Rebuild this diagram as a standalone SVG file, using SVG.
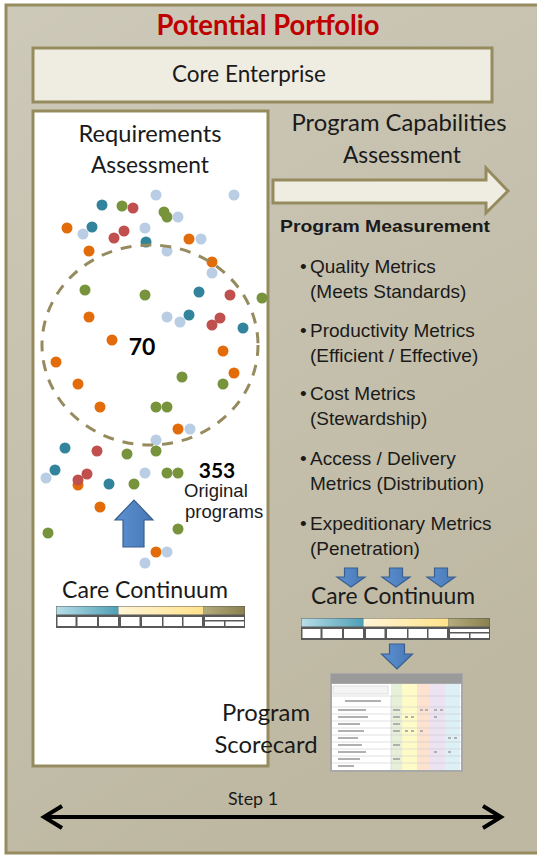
<svg xmlns="http://www.w3.org/2000/svg" width="537" height="856" viewBox="0 0 537 856">
<style>
.cal{font-family:Lato,"Open Sans","Noto Sans",sans-serif;fill:#1a1a1a}
.ari{font-family:"Liberation Sans",Arial,sans-serif;fill:#1a1a1a}
.frame{fill:#efece2;stroke:#958b5e;stroke-width:3}
.o{fill:#e36c0a}.t{fill:#31849b}.g{fill:#77933c}.r{fill:#c0504d}.b{fill:#b9cde5}
.barrow{fill:url(#blueArr);stroke:#3a5f8d;stroke-width:1.2}
.cell{fill:#ffffff}
</style>
<defs>
<linearGradient id="bg" x1="0" y1="0" x2="0.4" y2="1">
<stop offset="0" stop-color="#cdc9b9"/><stop offset="1" stop-color="#beb8a2"/>
</linearGradient>
<linearGradient id="blueArr" x1="0" y1="0" x2="1" y2="0">
<stop offset="0" stop-color="#5d91d2"/><stop offset="1" stop-color="#4778b6"/>
</linearGradient>
<linearGradient id="hBlue" x1="0" y1="0" x2="1" y2="0"><stop offset="0" stop-color="#b7dee8"/><stop offset="1" stop-color="#4f9fb5"/></linearGradient>
<linearGradient id="hYel" x1="0" y1="0" x2="1" y2="0"><stop offset="0" stop-color="#fff5d6"/><stop offset="1" stop-color="#ffe28a"/></linearGradient>
<linearGradient id="hOl" x1="0" y1="0" x2="1" y2="0"><stop offset="0" stop-color="#b4ab7c"/><stop offset="1" stop-color="#8a8050"/></linearGradient>
<marker id="chev" markerUnits="userSpaceOnUse" markerWidth="26" markerHeight="28" viewBox="0 0 26 28" refX="21" refY="14" orient="auto-start-reverse">
<path d="M3,3 L21,14 L3,25" fill="none" stroke="#000" stroke-width="4" stroke-linejoin="miter"/>
</marker>
<g id="ccTable">
<rect x="0" y="0" width="189" height="22" fill="#595959"/>
<rect x="0.5" y="0.5" width="62" height="8" fill="url(#hBlue)"/>
<rect x="62.5" y="0.5" width="85" height="8" fill="url(#hYel)"/>
<rect x="148" y="0.5" width="40.5" height="8" fill="url(#hOl)"/>
<rect class="cell" x="1.5" y="11" width="18" height="9"/>
<rect class="cell" x="21.5" y="11" width="19.5" height="9"/>
<rect class="cell" x="43" y="11" width="19" height="9"/>
<rect class="cell" x="65" y="11" width="18.5" height="9"/>
<rect class="cell" x="86" y="11" width="20" height="9"/>
<rect class="cell" x="107.5" y="11" width="18.5" height="9"/>
<rect class="cell" x="127.5" y="11" width="18.5" height="9"/>
<rect class="cell" x="149" y="11" width="39" height="3"/>
<rect class="cell" x="149" y="15.5" width="19" height="4.5"/>
<rect class="cell" x="169.5" y="15.5" width="18.5" height="4.5"/>
</g>
</defs>

<g id="portfolio">
<rect x="6" y="5" width="545" height="848" fill="url(#bg)" stroke="#958b5e" stroke-width="3"/>
<text x="268" y="35" text-anchor="middle" font-family="Lato,'Open Sans',sans-serif" font-weight="bold" font-size="29" fill="#c00000" textLength="223" lengthAdjust="spacingAndGlyphs">Potential Portfolio</text>
</g>

<g id="core-enterprise">
<rect class="frame" x="33" y="48" width="459" height="54"/>
<text class="cal" x="249" y="82" text-anchor="middle" font-size="23" textLength="154" lengthAdjust="spacingAndGlyphs">Core Enterprise</text>
</g>

<g id="requirements-assessment">
<rect x="33" y="111" width="235" height="655" fill="#ffffff" stroke="#958b5e" stroke-width="3"/>
<text class="cal" x="150" y="142" text-anchor="middle" font-size="23" textLength="143" lengthAdjust="spacingAndGlyphs">Requirements</text>
<text class="cal" x="150" y="173" text-anchor="middle" font-size="23" textLength="118" lengthAdjust="spacingAndGlyphs">Assessment</text>
</g>

<g id="dots">
<circle class="b" cx="156" cy="195" r="5.5"/><circle class="b" cx="234" cy="195" r="5.5"/>
<circle class="t" cx="102" cy="205" r="5.5"/><circle class="g" cx="122" cy="206" r="5.5"/>
<circle class="r" cx="133" cy="208" r="5.5"/><circle class="g" cx="164" cy="212" r="5.5"/>
<circle class="g" cx="167" cy="217" r="5.5"/><circle class="b" cx="178" cy="217" r="5.5"/>
<circle class="o" cx="67" cy="228" r="5.5"/><circle class="b" cx="83" cy="234" r="5.5"/>
<circle class="t" cx="92" cy="227" r="5.5"/><circle class="r" cx="124" cy="231" r="5.5"/>
<circle class="r" cx="114" cy="238" r="5.5"/><circle class="b" cx="145" cy="228" r="5.5"/>
<circle class="t" cx="146" cy="242" r="5.5"/><circle class="o" cx="189" cy="239" r="5.5"/>
<circle class="b" cx="201" cy="239" r="5.5"/><circle class="o" cx="89" cy="251" r="5.5"/>
<circle class="b" cx="167" cy="251" r="5.5"/><circle class="o" cx="212" cy="262" r="5.5"/>
<circle class="b" cx="212" cy="273" r="5.5"/><circle class="g" cx="85" cy="290" r="5.5"/>
<circle class="g" cx="145" cy="295" r="5.5"/><circle class="t" cx="199" cy="292" r="5.5"/>
<circle class="r" cx="230" cy="295" r="5.5"/><circle class="g" cx="262" cy="298" r="5.5"/>
<circle class="o" cx="89" cy="317" r="5.5"/><circle class="b" cx="167" cy="317" r="5.5"/>
<circle class="t" cx="189" cy="315" r="5.5"/><circle class="b" cx="180" cy="322" r="5.5"/>
<circle class="r" cx="220" cy="318" r="5.5"/><circle class="r" cx="212" cy="325" r="5.5"/>
<circle class="t" cx="243" cy="328" r="5.5"/><circle class="o" cx="112" cy="340" r="5.5"/>
<circle class="o" cx="56" cy="362" r="5.5"/><circle class="o" cx="223" cy="351" r="5.5"/>
<circle class="o" cx="234" cy="373" r="5.5"/><circle class="g" cx="182" cy="377" r="5.5"/>
<circle class="o" cx="78" cy="384" r="5.5"/><circle class="g" cx="223" cy="384" r="5.5"/>
<circle class="o" cx="100" cy="407" r="5.5"/><circle class="g" cx="156" cy="407" r="5.5"/>
<circle class="g" cx="167" cy="407" r="5.5"/><circle class="o" cx="178" cy="429" r="5.5"/>
<circle class="b" cx="190" cy="429" r="5.5"/><circle class="b" cx="156" cy="440" r="5.5"/>
<circle class="t" cx="65" cy="448" r="5.5"/><circle class="r" cx="97" cy="451" r="5.5"/>
<circle class="g" cx="127" cy="454" r="5.5"/><circle class="g" cx="156" cy="451" r="5.5"/>
<circle class="t" cx="55" cy="470" r="5.5"/><circle class="b" cx="46" cy="478" r="5.5"/>
<circle class="o" cx="78" cy="485" r="5.5"/><circle class="r" cx="87" cy="474" r="5.5"/>
<circle class="r" cx="78" cy="480" r="5.5"/><circle class="t" cx="109" cy="484" r="5.5"/>
<circle class="b" cx="145" cy="473" r="5.5"/><circle class="g" cx="134" cy="484" r="5.5"/>
<circle class="g" cx="167" cy="473" r="5.5"/><circle class="g" cx="178" cy="473" r="5.5"/>
<circle class="o" cx="100" cy="507" r="5.5"/><circle class="g" cx="48" cy="533" r="5.5"/>
<circle class="g" cx="178" cy="529" r="5.5"/><circle class="o" cx="156" cy="552" r="5.5"/>
<circle class="b" cx="167" cy="552" r="5.5"/><circle class="b" cx="145" cy="563" r="5.5"/>
</g>

<g id="core-70">
<ellipse cx="150" cy="345" rx="108" ry="100" fill="none" stroke="#958b5e" stroke-width="3" stroke-dasharray="11 9"/>
<text x="142" y="355" text-anchor="middle" font-family="Lato,'Open Sans',sans-serif" font-weight="bold" font-size="23" fill="#000">70</text>
</g>

<g id="original-353">
<text x="217" y="478" text-anchor="middle" font-family="Lato,'Open Sans',sans-serif" font-weight="bold" font-size="21" fill="#000">353</text>
<text class="ari" x="184" y="497" font-size="18.5">Original</text>
<text class="ari" x="185" y="518" font-size="18.5">programs</text>
</g>

<g id="care-continuum-left">
<text class="cal" x="145" y="598" text-anchor="middle" font-size="23" textLength="166" lengthAdjust="spacingAndGlyphs">Care Continuum</text>
<use href="#ccTable" x="56" y="606"/>
</g>

<g id="program-capabilities">
<text class="cal" x="399" y="131" text-anchor="middle" font-size="23" textLength="215" lengthAdjust="spacingAndGlyphs">Program Capabilities</text>
<text class="cal" x="402" y="163" text-anchor="middle" font-size="23" textLength="118" lengthAdjust="spacingAndGlyphs">Assessment</text>
</g>

<g id="program-measurement">
<text class="ari" x="385" y="232" text-anchor="middle" font-size="17" font-weight="bold" textLength="210" lengthAdjust="spacingAndGlyphs">Program Measurement</text>
<text class="ari" font-size="19"><tspan x="300" y="273">•</tspan><tspan x="310" y="273">Quality Metrics</tspan></text>
<text class="ari" x="310" y="298" font-size="19">(Meets Standards)</text>
<text class="ari" font-size="19"><tspan x="300" y="337">•</tspan><tspan x="310" y="337">Productivity Metrics</tspan></text>
<text class="ari" x="310" y="362" font-size="19">(Efficient / Effective)</text>
<text class="ari" font-size="19"><tspan x="300" y="400">•</tspan><tspan x="310" y="400">Cost Metrics</tspan></text>
<text class="ari" x="310" y="425" font-size="19">(Stewardship)</text>
<text class="ari" font-size="19"><tspan x="300" y="465">•</tspan><tspan x="310" y="465">Access / Delivery</tspan></text>
<text class="ari" x="310" y="490" font-size="19">Metrics (Distribution)</text>
<text class="ari" font-size="19"><tspan x="300" y="530">•</tspan><tspan x="310" y="530">Expeditionary Metrics</tspan></text>
<text class="ari" x="310" y="555" font-size="19">(Penetration)</text>
</g>

<g id="care-continuum-right">
<text class="cal" x="393" y="604" text-anchor="middle" font-size="23" textLength="164" lengthAdjust="spacingAndGlyphs">Care Continuum</text>
<use href="#ccTable" x="301" y="618"/>
</g>

<g id="program-scorecard">
<text class="cal" x="266" y="721" text-anchor="middle" font-size="23" textLength="88" lengthAdjust="spacingAndGlyphs">Program</text>
<text class="cal" x="266" y="753" text-anchor="middle" font-size="23" textLength="103" lengthAdjust="spacingAndGlyphs">Scorecard</text>
<rect x="330" y="673" width="133" height="99" fill="#a9a9a9"/>
<rect x="331" y="674" width="131" height="9" fill="#9a9a9a"/>
<rect x="332" y="684" width="129" height="86" fill="#ffffff"/>
<rect x="391" y="684" width="11" height="86" fill="#e6efd8"/>
<rect x="402" y="684" width="15" height="86" fill="#fffbc8"/>
<rect x="417" y="684" width="13" height="86" fill="#fde2cf"/>
<rect x="430" y="684" width="15" height="86" fill="#ebe2f2"/>
<rect x="445" y="684" width="15" height="86" fill="#dcf0f6"/>
<rect x="333" y="686" width="55" height="8" fill="#f4f4f4" stroke="#c8c8c8" stroke-width="0.5"/>
<g stroke="#cfcfcf" stroke-width="0.6">
<line x1="332" y1="696" x2="461" y2="696"/><line x1="332" y1="707" x2="461" y2="707"/>
<line x1="332" y1="714" x2="461" y2="714"/><line x1="332" y1="721" x2="461" y2="721"/>
<line x1="332" y1="728" x2="461" y2="728"/><line x1="332" y1="735" x2="461" y2="735"/>
<line x1="332" y1="742" x2="461" y2="742"/><line x1="332" y1="749" x2="461" y2="749"/>
<line x1="332" y1="756" x2="461" y2="756"/><line x1="332" y1="763" x2="461" y2="763"/>
<line x1="391" y1="696" x2="391" y2="770"/>
</g>
<g fill="#b0b0b0">
<rect x="338" y="709" width="28" height="2"/><rect x="338" y="716" width="30" height="2"/>
<rect x="338" y="723" width="22" height="2"/><rect x="338" y="730" width="26" height="2"/>
<rect x="338" y="737" width="20" height="2"/><rect x="338" y="744" width="24" height="2"/>
<rect x="338" y="751" width="28" height="2"/><rect x="338" y="758" width="22" height="2"/>
<rect x="338" y="765" width="16" height="2"/><rect x="345" y="700" width="36" height="2"/>
<rect x="393" y="709" width="7" height="2"/><rect x="393" y="716" width="7" height="2"/>
<rect x="393" y="723" width="7" height="2"/><rect x="393" y="730" width="7" height="2"/>
<rect x="393" y="744" width="7" height="2"/><rect x="393" y="758" width="7" height="2"/>
<rect x="420" y="709" width="3" height="2"/><rect x="425" y="709" width="3" height="2"/>
<rect x="434" y="709" width="3" height="2"/><rect x="440" y="709" width="3" height="2"/>
<rect x="405" y="716" width="3" height="2"/><rect x="411" y="716" width="3" height="2"/>
<rect x="405" y="730" width="3" height="2"/><rect x="411" y="730" width="3" height="2"/>
<rect x="420" y="730" width="3" height="2"/><rect x="434" y="716" width="3" height="2"/>
<rect x="448" y="737" width="3" height="2"/><rect x="454" y="737" width="3" height="2"/>
<rect x="434" y="751" width="3" height="2"/><rect x="448" y="751" width="3" height="2"/>
</g>
</g>

<g id="step1">
<text class="cal" x="253" y="805" text-anchor="middle" font-size="17" textLength="50" lengthAdjust="spacingAndGlyphs">Step 1</text>
</g>

<g id="connectors">
<path class="frame" d="M273,180 H486 V168 L508,191 L486,213 V203 H273 Z" stroke-width="2.5"/>
<path class="barrow" d="M123,547 V520 H115 L134,500 L153,520 H144 V547 Z"/>
<path class="barrow" d="M344.5,568 h13 v9 h7.5 l-14,10 l-14,-10 h7.5 z"/>
<path class="barrow" d="M389.5,568 h13 v9 h7.5 l-14,10 l-14,-10 h7.5 z"/>
<path class="barrow" d="M434.5,568 h13 v9 h7.5 l-14,10 l-14,-10 h7.5 z"/>
<path class="barrow" d="M389.5,644 h15 v10 h8 l-15.5,15 l-15.5,-15 h8 z"/>
<line x1="44" y1="817" x2="501" y2="817" stroke="#000" stroke-width="4" marker-start="url(#chev)" marker-end="url(#chev)"/>
</g>
</svg>
